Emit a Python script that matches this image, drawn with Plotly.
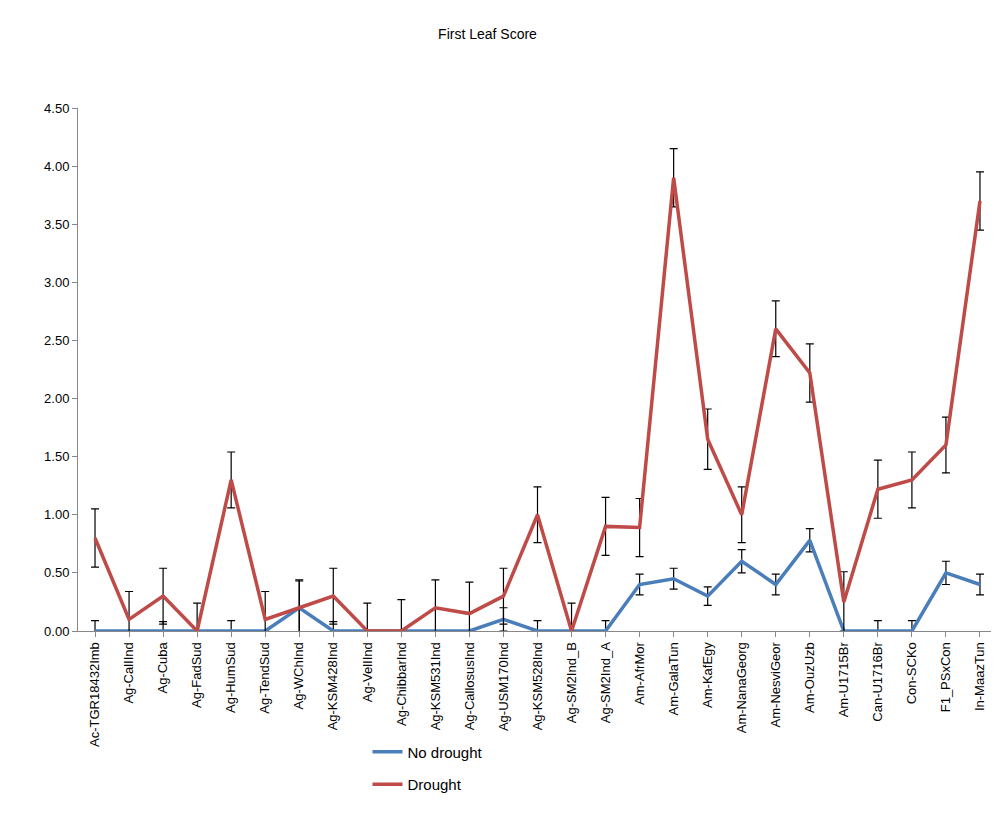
import plotly.graph_objects as go

categories = ["Ac-TGR18432Imb","Ag-CalIInd","Ag-Cuba","Ag-FadSud","Ag-HumSud","Ag-TendSud","Ag-WChInd",
"Ag-KSM428Ind","Ag-VelIInd","Ag-ChibbarInd","Ag-KSM531Ind","Ag-CallosusInd","Ag-USM170Ind","Ag-KSM528Ind",
"Ag-SM2Ind_B","Ag-SM2Ind_A","Am-AfrMor","Am-GalaTun","Am-KafEgy","Am-NanaGeorg","Am-NesviGeor","Am-OuzUzb",
"Am-U1715Br","Can-U1716Br","Con-SCKo","F1_PSxCon","In-MaazTun"]
no_drought = [0,0,0,0,0,0,0.2,0,0,0,0,0,0.1,0,0,0,0.4,0.45,0.3,0.6,0.4,0.78,0,0,0,0.5,0.4]
no_drought_err = [0.09,0,0.08,0,0.09,0,0.23,0.08,0,0,0,0,0.1,0.09,0,0.09,0.09,0.09,0.08,0.1,0.09,0.1,0,0.09,0.09,0.1,0.09]
drought = [0.8,0.1,0.3,0,1.3,0.1,0.2,0.3,0,0,0.2,0.15,0.3,1.0,0,0.9,0.89,3.9,1.65,1.0,2.6,2.22,0.25,1.22,1.3,1.6,3.7]
drought_err = [0.25,0.24,0.24,0.24,0.24,0.24,0.24,0.24,0.24,0.27,0.24,0.27,0.24,0.24,0.24,0.25,0.25,0.25,0.26,0.24,0.24,0.25,0.26,0.25,0.24,0.24,0.25]

fig = go.Figure()
fig.add_trace(go.Scatter(x=categories, y=no_drought, name="No drought", mode="lines", legendgroup="a",
    line=dict(color="#4a7ebb", width=3.5),
    error_y=dict(type="data", array=no_drought_err, color="black", thickness=1.2, width=4)))
fig.add_trace(go.Scatter(x=categories, y=drought, name="Drought", mode="lines", legendgroup="b",
    line=dict(color="#be4b48", width=3.5),
    error_y=dict(type="data", array=drought_err, color="black", thickness=1.2, width=4)))

fig.update_layout(
    width=999, height=833, plot_bgcolor="white", paper_bgcolor="white",
    title=dict(text="First Leaf Score", x=0.48, y=0.975, font=dict(size=14, color="black")),
    font=dict(family="Liberation Sans, Arial", color="black", size=13),
    margin=dict(l=70, r=10, t=100, b=210),
    showlegend=True,
    legend=dict(orientation="v", x=0.315, y=-0.2, xanchor="left", yanchor="top",
                font=dict(size=15), tracegroupgap=10),
    xaxis=dict(tickangle=-90, showline=True, linecolor="#888", ticks="outside", tickcolor="#888",
               range=[-0.5, 26.5], tickfont=dict(size=13), automargin=False),
    yaxis=dict(range=[0, 4.5], dtick=0.5, tickformat=".2f", showgrid=False, showline=True,
               linecolor="#888", ticks="outside", tickcolor="#888", tickfont=dict(size=13)),
)
fig.write_html("out.html")
